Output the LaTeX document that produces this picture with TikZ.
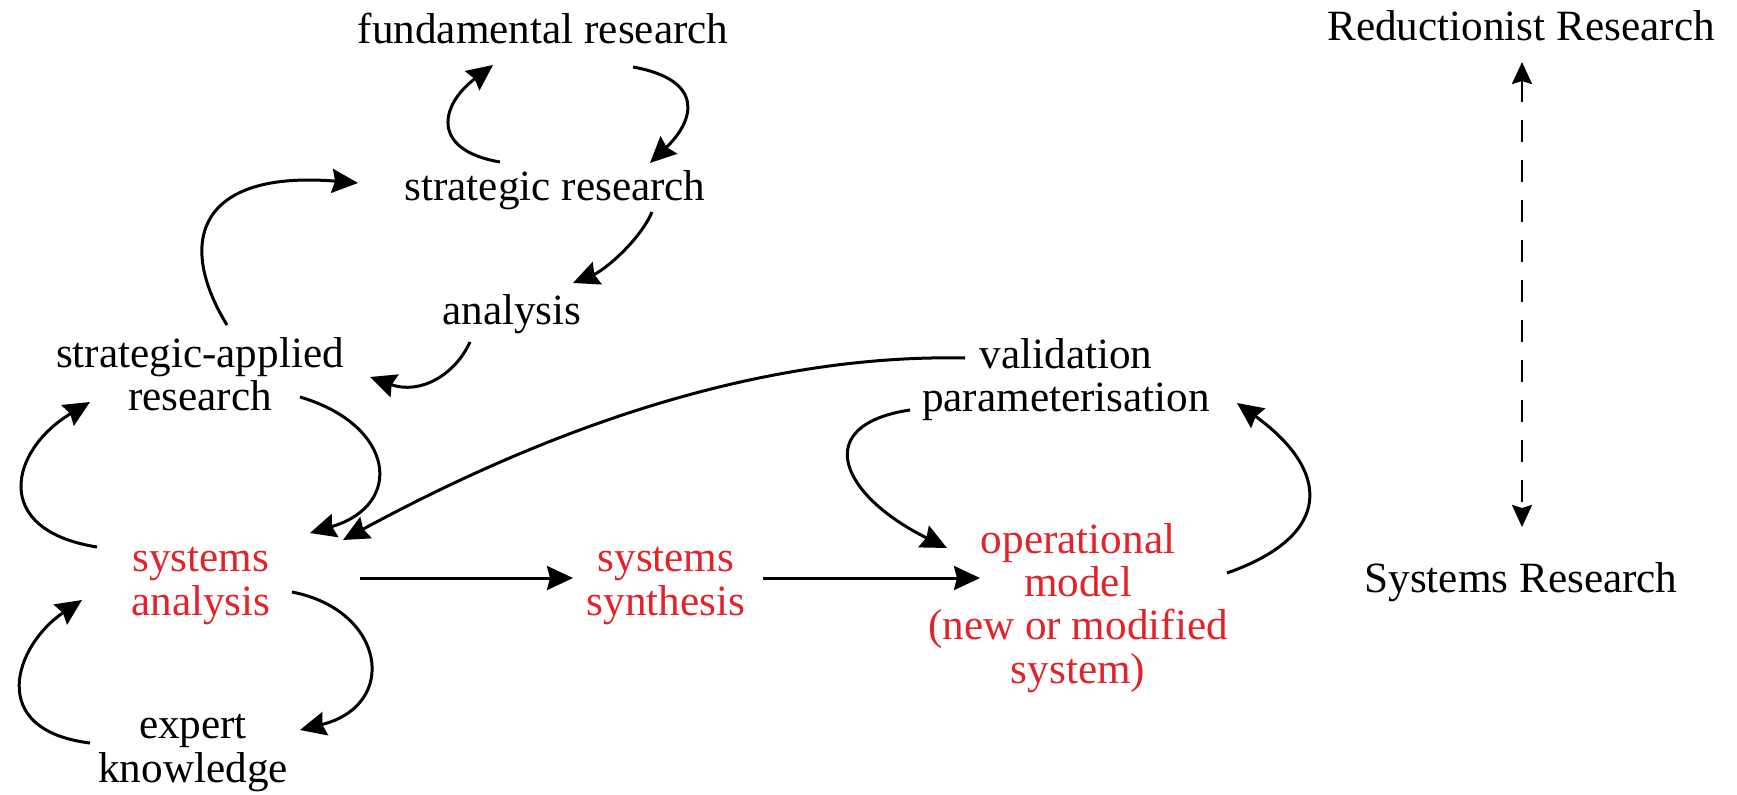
\documentclass[tikz,border=0pt]{standalone}
\usepackage{fontspec}
\setmainfont{Liberation Serif}
\usetikzlibrary{calc}
\usetikzlibrary{arrows.meta}
\definecolor{sysred}{RGB}{226,35,42}

\begin{document}
\begin{tikzpicture}[x=0.5pt,y=-0.5pt,>={Stealth[length=13pt,width=12pt,inset=1.5pt]},
  lbl/.style={font=\fontsize{21.6}{21.6}\selectfont,align=center,inner sep=0pt},
  redlbl/.style={lbl,text=sysred},
  flow/.style={->,line width=1.5pt,black}]
\useasboundingbox (0,0) rectangle (1737,794);

\node[lbl] (fund) at (543,28) {fundamental research};
\node[lbl] (strat) at (555,190) {strategic research};
\node[lbl] (anal) at (512,314) {analysis};
\node[lbl] (sar) at (200,374) {strategic-applied\\research};
\node[lbl] (val) at (1066,380) {validation\\parameterisation};
\node[redlbl] (sys) at (201,586) {systems\\analysis};
\node[lbl] (exp) at (193,753) {expert\\knowledge};
\node[redlbl] (syn) at (666,586) {systems\\synthesis};
\node[redlbl] (op) at (1078,608) {operational\\model\\(new or modified\\system)};
\node[lbl] (red) at (1521,26) {Reductionist Research};
\node[lbl] (sr) at (1521,582) {Systems Research};

\draw[flow] ($(strat)+(-55,-28)$) .. controls (430,150) and (440,105) .. ($(fund)+(-50,37)$);
\draw[flow] ($(fund)+(90,39)$) .. controls (705,80) and (695,120) .. ($(strat)+(95,-27)$);
\draw[flow] ($(strat)+(97,22)$) .. controls (640,240) and (605,270) .. ($(anal)+(61,-31)$);
\draw[flow] ($(sar)+(27,-49)$) .. controls (175,240) and (200,170) .. ($(strat)+(-197,-7)$);
\draw[flow] ($(anal)+(-42,28)$) .. controls (455,375) and (420,395) .. ($(sar)+(170,3)$);
\draw[flow] ($(sar)+(100,23)$) .. controls (395,425) and (405,505) .. ($(sys)+(109,-53)$);
\draw[flow] ($(val)+(-101,-22)$) .. controls (820,355) and (620,390) .. ($(sys)+(142,-46)$);
\draw[flow] ($(sys)+(-104,-39)$) .. controls (-10,530) and (10,450) .. ($(sar)+(-110,28)$);
\draw[flow] ($(sys)+(91,6)$) .. controls (385,610) and (400,705) .. ($(exp)+(107,-23)$);
\draw[flow] ($(exp)+(-103,-10)$) .. controls (-15,730) and (15,645) .. ($(sys)+(-119,14)$);
\draw[flow] ($(sys)+(159,-8)$) -- ($(syn)+(-93,-8)$);
\draw[flow] ($(syn)+(97,-8)$) -- ($(op)+(-98,-30)$);
\draw[flow] ($(val)+(-156,30)$) .. controls (810,425) and (840,495) .. ($(op)+(-131,-60)$);
\draw[flow] ($(op)+(149,-35)$) .. controls (1335,535) and (1330,470) .. ($(val)+(171,23)$);
\draw[<->,>={Stealth[length=11pt,width=10pt,inset=1.5pt]},line width=1.2pt,dash pattern=on 11pt off 9pt] ($(red)+(1,36)$) -- ($(sr)+(1,-55)$);

\end{tikzpicture}
\end{document}
